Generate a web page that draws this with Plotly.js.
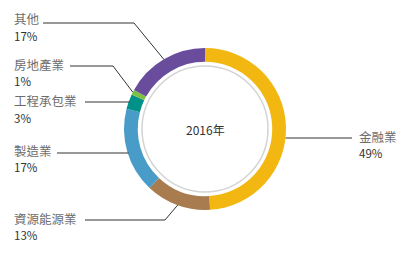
<!DOCTYPE html>
<html><head><meta charset="utf-8">
<script src="https://cdn.plot.ly/plotly-3.0.1.min.js"></script>
<style>html,body{margin:0;padding:0;background:#fff;}#chart{width:407px;height:254px;}</style>
</head><body><div id="chart"></div>
<script>
const categories = ['金融業', '資源能源業', '製造業', '工程承包業', '房地產業', '其他'];
const values = [49, 13, 17, 3, 1, 17];
const colors = ['#F2B711', '#A97C50', '#4A9CC8', '#009288', '#7CC242', '#6A4C9C'];
const centerLabel = '2016年';

const W = 407, H = 254;
const cx = 205, cy = 129, R = 81, hole = 0.83;
const px = x => x / W, py = y => 1 - y / H;

// label layout: [labelX, labelY(name center), side, elbowY or null (horizontal), lineStartX]
const labelLayout = {
  '金融業':   {x: 357, y: 136, side: 'right', lineY: 138, lineEnd: 352},
  '資源能源業': {x: 12, y: 218, side: 'left', lineY: 220, lineStart: 85, elbow: 165},
  '製造業':   {x: 12, y: 150, side: 'left', lineY: 153, lineStart: 57},
  '工程承包業': {x: 12, y: 101, side: 'left', lineY: 102, lineStart: 85},
  '房地產業':  {x: 12, y: 64, side: 'left', lineY: 66, lineStart: 70, elbow: 113},
  '其他':    {x: 12, y: 19, side: 'left', lineY: 23, lineStart: 43, elbow: 134}
};

const total = values.reduce((a, b) => a + b, 0);
let cum = 0;
const annotations = [], shapes = [];
categories.forEach((c, i) => {
  const mid = (cum + values[i] / 2) / total * 2 * Math.PI;
  cum += values[i];
  const ax = cx + R * Math.sin(mid), ay = cy - R * Math.cos(mid);
  const L = labelLayout[c];
  const pct = Math.round(values[i] / total * 100) + '%';
  annotations.push({xref: 'paper', yref: 'paper', x: px(L.x), y: py(L.y), xanchor: 'left', yanchor: 'middle',
    text: c, showarrow: false, font: {family: 'Noto Sans CJK TC', size: 12.5, color: '#6d6d6d'}});
  annotations.push({xref: 'paper', yref: 'paper', x: px(L.x), y: py(L.y + 17), xanchor: 'left', yanchor: 'middle',
    text: pct, showarrow: false, font: {family: 'Noto Sans CJK TC', size: 11.5, color: '#333'}});
  const line = {color: '#333', width: 1};
  if (L.side === 'right') {
    const x0 = cx + Math.sqrt(R * R - (L.lineY - cy) * (L.lineY - cy));
    shapes.push({type: 'line', xref: 'paper', yref: 'paper', x0: px(x0), y0: py(L.lineY), x1: px(L.lineEnd), y1: py(L.lineY), line});
  } else if (L.elbow) {
    shapes.push({type: 'line', xref: 'paper', yref: 'paper', x0: px(L.lineStart), y0: py(L.lineY), x1: px(L.elbow), y1: py(L.lineY), line});
    shapes.push({type: 'line', xref: 'paper', yref: 'paper', x0: px(L.elbow), y0: py(L.lineY), x1: px(ax), y1: py(ay), line});
  } else {
    const x1 = cx - Math.sqrt(R * R - (L.lineY - cy) * (L.lineY - cy));
    shapes.push({type: 'line', xref: 'paper', yref: 'paper', x0: px(L.lineStart), y0: py(L.lineY), x1: px(x1 + 1), y1: py(L.lineY), line});
  }
});
// inner grey ring
const r2 = 63;
shapes.push({type: 'circle', xref: 'paper', yref: 'paper', x0: px(cx - r2), x1: px(cx + r2), y0: py(cy + r2), y1: py(cy - r2),
  line: {color: '#d4d4d4', width: 1.5}, fillcolor: 'rgba(0,0,0,0)'});
annotations.push({xref: 'paper', yref: 'paper', x: px(cx), y: py(cy), xanchor: 'center', yanchor: 'middle',
  text: centerLabel, showarrow: false, font: {family: 'Noto Sans CJK TC', size: 12, color: '#333'}});

const trace = {
  type: 'pie', labels: categories, values: values, sort: false, direction: 'clockwise', rotation: 0,
  hole: hole, textinfo: 'none', hoverinfo: 'none', showlegend: false,
  marker: {colors: colors, line: {width: 0}},
  domain: {x: [px(cx - R), px(cx + R)], y: [py(cy + R), py(cy - R)]}
};
Plotly.newPlot('chart', [trace], {
  width: W, height: H, margin: {l: 0, r: 0, t: 0, b: 0}, paper_bgcolor: '#fff',
  showlegend: false, annotations, shapes
}, {staticPlot: true});
</script></body></html>
